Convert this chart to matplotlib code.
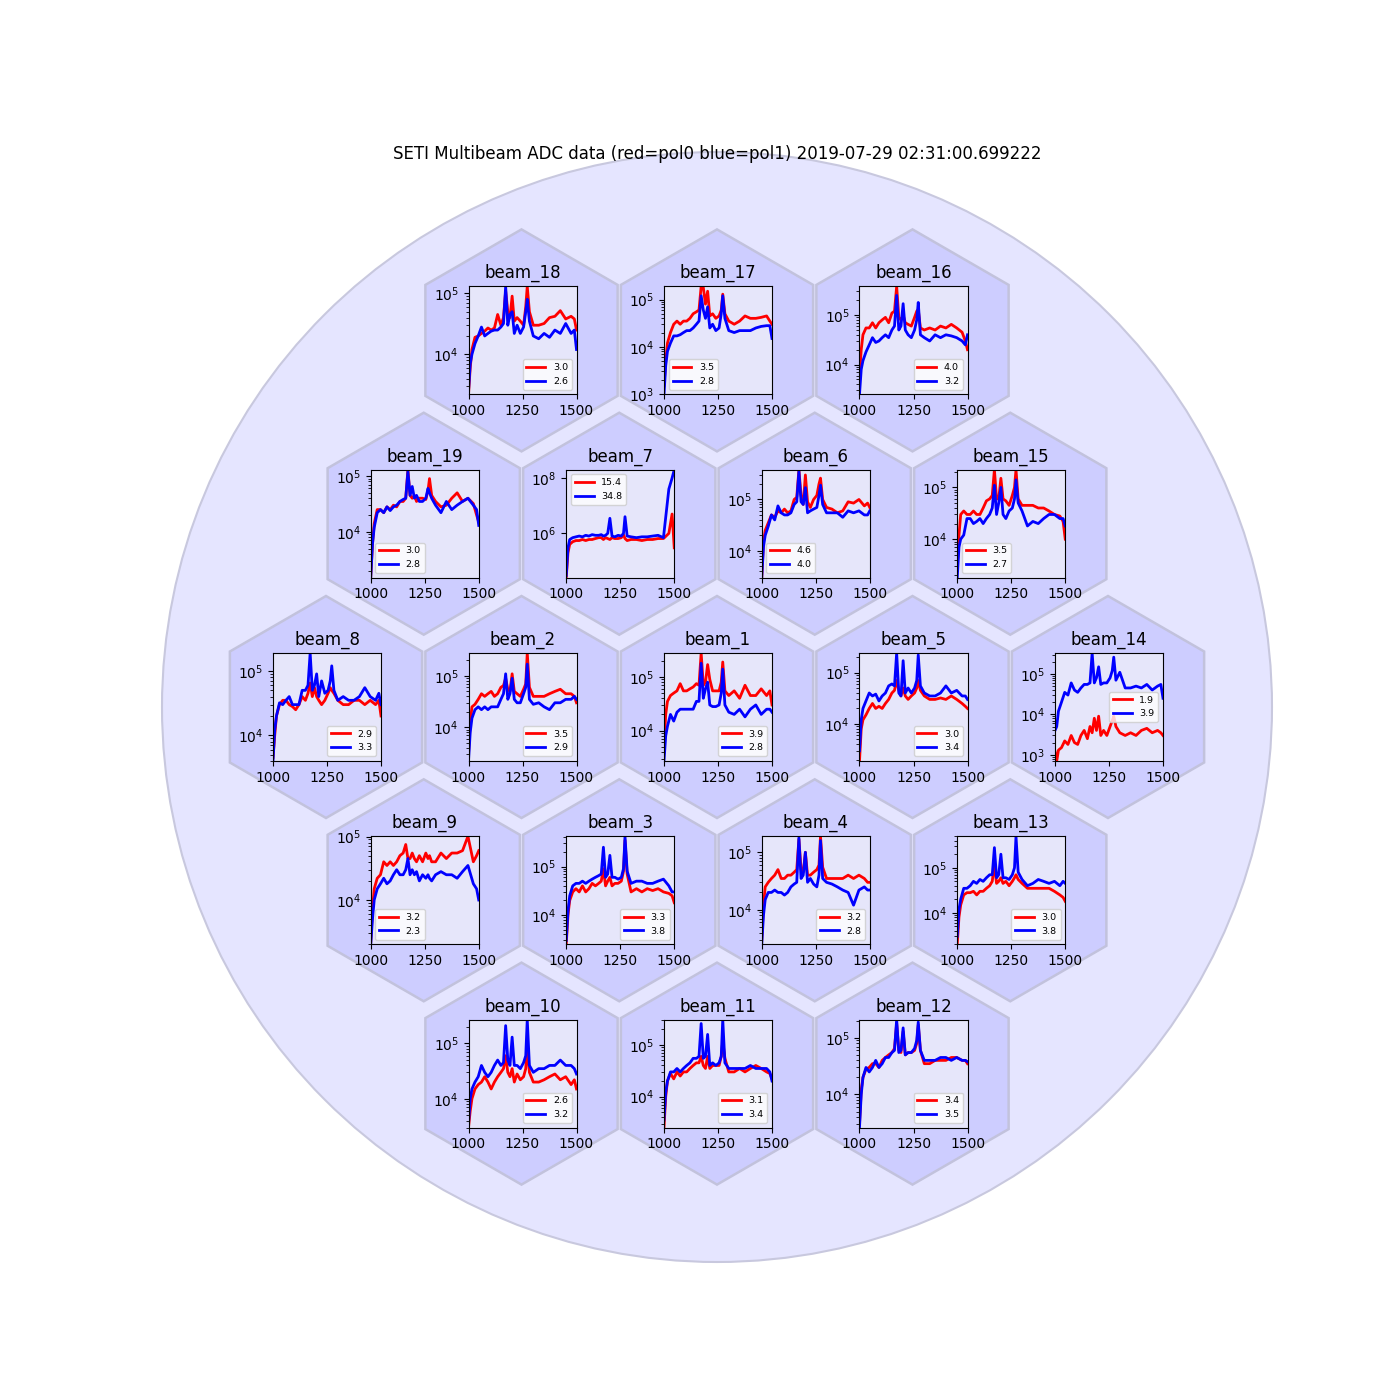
#!/usr/bin/python
# -*- coding: utf-8 -*-

import matplotlib
matplotlib.use('Agg')
from matplotlib import patches
from matplotlib import pyplot
import numpy

TITLE = 'SETI Multibeam ADC data (red=pol0 blue=pol1) 2019-07-29 02:31:00.699222'

# frequency samples, MHz
FREQ = [1000, 1008, 1016, 1030, 1045, 1060, 1075, 1090, 1105, 1120, 1135,
        1150, 1162, 1172, 1182, 1192, 1202, 1212, 1225, 1240, 1255, 1265,
        1272, 1282, 1300, 1325, 1350, 1375, 1400, 1425, 1450, 1475, 1490,
        1500]

# power per beam, in thousands of counts
B18_POL0 = [2.2, 6, 12, 19, 20, 22, 24, 27, 25, 27, 45, 30, 40, 110, 50, 40, 90, 35, 40, 35, 30, 60, 130, 50, 30, 30, 32, 40, 42, 52, 38, 42, 38, 25]
B18_POL1 = [2.5, 7, 10, 15, 20, 28, 20, 22, 24, 25, 25, 28, 32, 130, 30, 45, 50, 22, 30, 22, 28, 50, 80, 35, 20, 18, 22, 19, 25, 22, 32, 22, 25, 12]
B17_POL0 = [1.5, 5, 12, 20, 30, 35, 30, 35, 35, 40, 50, 55, 60, 190, 180, 80, 150, 45, 50, 40, 45, 60, 130, 50, 35, 30, 35, 45, 40, 40, 42, 45, 35, 30]
B17_POL1 = [0.98, 4, 8, 12, 17, 17, 18, 20, 22, 22, 25, 30, 35, 120, 60, 40, 70, 25, 30, 22, 25, 50, 120, 40, 22, 20, 22, 22, 22, 25, 27, 28, 28, 15]
B16_POL0 = [6, 20, 40, 55, 55, 70, 55, 70, 80, 90, 70, 110, 120, 380, 90, 80, 100, 70, 65, 60, 90, 120, 130, 55, 50, 55, 50, 60, 55, 65, 55, 45, 30, 20]
B16_POL1 = [2.5, 8, 12, 18, 25, 35, 28, 30, 35, 40, 35, 50, 60, 250, 50, 60, 170, 50, 40, 35, 50, 80, 180, 40, 35, 30, 40, 35, 40, 38, 35, 30, 25, 40]
B19_POL0 = [1.6, 6, 14, 25, 25, 22, 28, 25, 30, 28, 35, 35, 40, 130, 45, 40, 45, 35, 40, 40, 38, 55, 90, 45, 35, 28, 30, 40, 50, 35, 40, 32, 20, 15]
B19_POL1 = [1.5, 6, 12, 22, 25, 22, 28, 24, 28, 30, 35, 38, 40, 120, 45, 65, 40, 45, 35, 35, 40, 60, 50, 40, 30, 22, 35, 25, 30, 35, 40, 30, 25, 13]
B7_POL0 = [25, 200, 400, 500, 550, 550, 600, 550, 600, 600, 650, 700, 700, 600, 700, 650, 600, 700, 650, 650, 700, 900, 650, 550, 600, 600, 550, 600, 600, 650, 650, 1000, 5000, 300]
B7_POL1 = [30, 300, 600, 700, 750, 800, 750, 850, 800, 900, 850, 850, 900, 800, 850, 1000, 3500, 800, 750, 850, 800, 1000, 4000, 800, 750, 700, 750, 750, 800, 850, 700, 40000, 100000, 200000]
B6_POL0 = [3, 15, 25, 35, 50, 45, 60, 55, 65, 55, 60, 100, 110, 380, 120, 80, 300, 90, 70, 100, 120, 200, 260, 100, 70, 65, 55, 60, 90, 85, 100, 75, 85, 70]
B6_POL1 = [3, 12, 20, 30, 50, 40, 75, 55, 50, 50, 55, 80, 90, 350, 90, 80, 170, 55, 60, 65, 70, 120, 190, 80, 55, 55, 55, 45, 60, 55, 60, 50, 50, 60]
B15_POL0 = [3, 12, 30, 35, 30, 30, 35, 30, 30, 40, 55, 60, 70, 220, 60, 60, 150, 60, 55, 45, 70, 100, 220, 60, 45, 45, 45, 40, 40, 35, 30, 28, 22, 10]
B15_POL1 = [1.8, 7, 10, 12, 25, 25, 20, 22, 25, 20, 25, 30, 40, 110, 30, 50, 100, 30, 25, 35, 40, 60, 140, 50, 35, 18, 22, 20, 25, 30, 30, 25, 25, 18]
B8_POL0 = [4.5, 10, 20, 30, 35, 35, 30, 28, 25, 30, 40, 35, 45, 65, 40, 55, 40, 35, 30, 35, 45, 55, 50, 45, 35, 30, 30, 35, 35, 30, 35, 30, 35, 20]
B8_POL1 = [4, 12, 20, 32, 30, 35, 40, 30, 30, 30, 50, 50, 60, 190, 50, 60, 90, 40, 70, 45, 50, 70, 120, 50, 35, 40, 35, 35, 40, 55, 40, 35, 45, 30]
B2_POL0 = [3, 12, 25, 28, 35, 45, 40, 45, 50, 40, 45, 60, 65, 90, 55, 50, 110, 50, 45, 40, 55, 70, 280, 60, 40, 40, 40, 45, 50, 55, 45, 45, 40, 30]
B2_POL1 = [2.2, 8, 15, 22, 25, 22, 25, 22, 25, 25, 25, 35, 45, 110, 35, 45, 90, 35, 30, 30, 45, 60, 170, 35, 28, 30, 25, 22, 30, 30, 35, 35, 40, 35]
B1_POL0 = [5, 20, 35, 45, 50, 55, 75, 55, 55, 60, 65, 75, 70, 280, 70, 80, 170, 90, 55, 55, 55, 80, 190, 55, 45, 55, 40, 70, 45, 45, 60, 45, 55, 30]
B1_POL1 = [2.7, 8, 12, 20, 15, 22, 25, 25, 25, 25, 25, 35, 35, 180, 40, 60, 80, 30, 28, 28, 30, 50, 140, 30, 22, 20, 25, 18, 25, 30, 20, 25, 25, 22]
B5_POL0 = [1.9, 8, 12, 15, 20, 25, 20, 22, 20, 25, 30, 40, 45, 70, 45, 35, 50, 35, 30, 35, 40, 50, 70, 45, 35, 30, 30, 32, 30, 35, 30, 25, 22, 20]
B5_POL1 = [3, 12, 20, 28, 40, 35, 38, 28, 35, 40, 55, 60, 55, 240, 40, 35, 170, 40, 50, 40, 50, 70, 220, 55, 40, 35, 35, 40, 55, 40, 45, 35, 35, 30]
B14_POL0 = [1.2, 0.7, 1.3, 1.5, 2.2, 1.8, 3.0, 2.0, 1.8, 3.0, 4.0, 2.5, 5, 3.5, 8, 4, 9, 3, 4, 3, 5, 7, 9, 5, 3.5, 3, 3.5, 3, 4, 4.5, 3.5, 4, 3.5, 3]
B14_POL1 = [4, 5, 12, 20, 35, 30, 60, 40, 35, 45, 55, 55, 60, 330, 60, 80, 150, 55, 60, 60, 80, 120, 260, 70, 110, 45, 45, 50, 45, 55, 40, 50, 55, 25]
B9_POL0 = [2.2, 7, 15, 22, 25, 40, 35, 40, 35, 40, 50, 55, 75, 45, 45, 55, 45, 40, 50, 40, 55, 45, 50, 40, 40, 55, 45, 55, 55, 60, 101, 40, 50, 60]
B9_POL1 = [2, 5, 10, 15, 18, 22, 18, 20, 25, 30, 25, 25, 30, 45, 25, 30, 25, 28, 20, 25, 22, 25, 22, 20, 25, 28, 25, 25, 22, 28, 35, 18, 15, 10]
B3_POL0 = [2.5, 10, 20, 30, 35, 30, 40, 30, 35, 45, 40, 45, 50, 90, 40, 50, 60, 40, 45, 45, 50, 80, 350, 70, 30, 35, 30, 35, 32, 35, 30, 28, 25, 18]
B3_POL1 = [3, 12, 25, 40, 45, 45, 50, 45, 50, 55, 60, 65, 70, 250, 60, 70, 170, 60, 60, 55, 60, 90, 420, 80, 45, 50, 50, 45, 45, 50, 55, 40, 30, 30]
B4_POL0 = [3, 12, 25, 30, 35, 40, 50, 35, 35, 40, 40, 45, 50, 170, 50, 45, 100, 40, 40, 45, 50, 60, 190, 55, 35, 35, 35, 35, 40, 35, 40, 35, 30, 30]
B4_POL1 = [2.5, 8, 15, 20, 20, 22, 20, 20, 18, 20, 25, 28, 30, 180, 35, 40, 100, 30, 35, 28, 25, 40, 160, 35, 30, 28, 25, 22, 20, 12, 22, 25, 22, 22]
B13_POL0 = [2, 8, 15, 25, 28, 28, 30, 25, 30, 30, 35, 40, 50, 120, 45, 50, 60, 45, 50, 40, 50, 60, 70, 55, 45, 35, 35, 35, 35, 35, 30, 25, 22, 18]
B13_POL1 = [3, 12, 20, 35, 35, 40, 50, 45, 55, 50, 60, 70, 70, 280, 60, 70, 200, 60, 60, 55, 70, 100, 500, 80, 55, 40, 45, 55, 50, 45, 50, 40, 50, 45]
B10_POL0 = [3, 6, 10, 15, 18, 20, 25, 20, 15, 20, 25, 30, 35, 60, 30, 25, 35, 20, 28, 22, 25, 35, 90, 30, 20, 20, 22, 25, 28, 22, 25, 18, 22, 15]
B10_POL1 = [3.5, 10, 15, 20, 25, 40, 30, 25, 30, 40, 50, 40, 45, 210, 50, 40, 130, 40, 40, 35, 45, 60, 270, 40, 30, 35, 35, 40, 40, 50, 40, 40, 35, 28]
B11_POL0 = [2.5, 10, 20, 28, 22, 30, 25, 30, 30, 35, 40, 45, 45, 60, 40, 35, 60, 35, 40, 40, 40, 60, 120, 55, 30, 30, 35, 30, 35, 40, 35, 30, 28, 22]
B11_POL1 = [3.5, 12, 20, 30, 30, 35, 30, 35, 40, 45, 55, 55, 60, 260, 55, 60, 160, 40, 45, 40, 45, 60, 310, 45, 35, 35, 35, 35, 40, 35, 35, 35, 30, 20]
B12_POL0 = [3, 12, 20, 28, 30, 35, 35, 30, 40, 45, 50, 55, 65, 180, 60, 55, 130, 50, 55, 55, 60, 80, 170, 60, 35, 35, 40, 40, 40, 45, 45, 40, 40, 35]
B12_POL1 = [2.6, 10, 20, 30, 25, 30, 40, 30, 35, 45, 45, 55, 60, 210, 55, 60, 150, 50, 55, 55, 65, 90, 190, 60, 40, 40, 40, 45, 45, 40, 45, 40, 40, 38]

# legend labels (pol0, pol1)
B18_STD = ['3.0', '2.6']
B17_STD = ['3.5', '2.8']
B16_STD = ['4.0', '3.2']
B19_STD = ['3.0', '2.8']
B7_STD = ['15.4', '34.8']
B6_STD = ['4.6', '4.0']
B15_STD = ['3.5', '2.7']
B8_STD = ['2.9', '3.3']
B2_STD = ['3.5', '2.9']
B1_STD = ['3.9', '2.8']
B5_STD = ['3.0', '3.4']
B14_STD = ['1.9', '3.9']
B9_STD = ['3.2', '2.3']
B3_STD = ['3.3', '3.8']
B4_STD = ['3.2', '2.8']
B13_STD = ['3.0', '3.8']
B10_STD = ['2.6', '3.2']
B11_STD = ['3.1', '3.4']
B12_STD = ['3.4', '3.5']

# hexagon rows, top to bottom
ROWS = [
    ['beam_18', 'beam_17', 'beam_16'],
    ['beam_19', 'beam_7', 'beam_6', 'beam_15'],
    ['beam_8', 'beam_2', 'beam_1', 'beam_5', 'beam_14'],
    ['beam_9', 'beam_3', 'beam_4', 'beam_13'],
    ['beam_10', 'beam_11', 'beam_12'],
]

BEAMS = {
    'beam_18': (B18_POL0, B18_POL1, B18_STD, 'lower right'),
    'beam_17': (B17_POL0, B17_POL1, B17_STD, 'lower left'),
    'beam_16': (B16_POL0, B16_POL1, B16_STD, 'lower right'),
    'beam_19': (B19_POL0, B19_POL1, B19_STD, 'lower left'),
    'beam_7': (B7_POL0, B7_POL1, B7_STD, 'upper left'),
    'beam_6': (B6_POL0, B6_POL1, B6_STD, 'lower left'),
    'beam_15': (B15_POL0, B15_POL1, B15_STD, 'lower left'),
    'beam_8': (B8_POL0, B8_POL1, B8_STD, 'lower right'),
    'beam_2': (B2_POL0, B2_POL1, B2_STD, 'lower right'),
    'beam_1': (B1_POL0, B1_POL1, B1_STD, 'lower right'),
    'beam_5': (B5_POL0, B5_POL1, B5_STD, 'lower right'),
    'beam_14': (B14_POL0, B14_POL1, B14_STD, 'center right'),
    'beam_9': (B9_POL0, B9_POL1, B9_STD, 'lower left'),
    'beam_3': (B3_POL0, B3_POL1, B3_STD, 'lower right'),
    'beam_4': (B4_POL0, B4_POL1, B4_STD, 'lower right'),
    'beam_13': (B13_POL0, B13_POL1, B13_STD, 'lower right'),
    'beam_10': (B10_POL0, B10_POL1, B10_STD, 'lower right'),
    'beam_11': (B11_POL0, B11_POL1, B11_STD, 'lower right'),
    'beam_12': (B12_POL0, B12_POL1, B12_STD, 'lower right'),
}

SIZE = 1400.0      # figure size in pixels
CENTER = (717, 707)
DX, DY = 195.5, 183.3
HEX_R = 111
BOX = 108


def main():
  fig = pyplot.figure(figsize=(14, 14), dpi=100)
  bg = fig.add_axes([0, 0, 1, 1])
  bg.set_xlim(0, SIZE)
  bg.set_ylim(SIZE, 0)
  bg.axis('off')
  bg.add_patch(patches.Circle(CENTER, 555, facecolor=(0, 0, 1, 0.1),
                              edgecolor='#c8c8de', linewidth=1.5))
  fig.text(CENTER[0] / SIZE, 1 - 154 / SIZE, TITLE, ha='center',
           va='center', fontsize=12)

  freq = numpy.array(FREQ)
  for i, row in enumerate(ROWS):
    cy = CENTER[1] + (i - 2) * DY
    for j, name in enumerate(row):
      cx = CENTER[0] + (j - (len(row) - 1) / 2.0) * DX
      bg.add_patch(patches.RegularPolygon((cx, cy), 6, radius=HEX_R,
                                          facecolor=(0, 0, 1, 0.1),
                                          edgecolor='#c2c2dc',
                                          linewidth=1.8))
      pol0, pol1, std, loc = BEAMS[name]
      ax = fig.add_axes([(cx - 53) / SIZE, 1 - (cy + 54) / SIZE,
                         BOX / SIZE, BOX / SIZE])
      ax.set_facecolor('lavender')
      ax.plot(freq, numpy.array(pol0) * 1e3, color='red', lw=2,
              label=std[0])
      ax.plot(freq, numpy.array(pol1) * 1e3, color='blue', lw=2,
              label=std[1])
      ax.set_yscale('log')
      ax.margins(0)
      ax.set_xticks([1000, 1250, 1500])
      ax.set_title(name)
      ax.legend(loc=loc, fontsize=6.8)

  fig.savefig('out.png', dpi=100)


if __name__ == '__main__':
  main()
